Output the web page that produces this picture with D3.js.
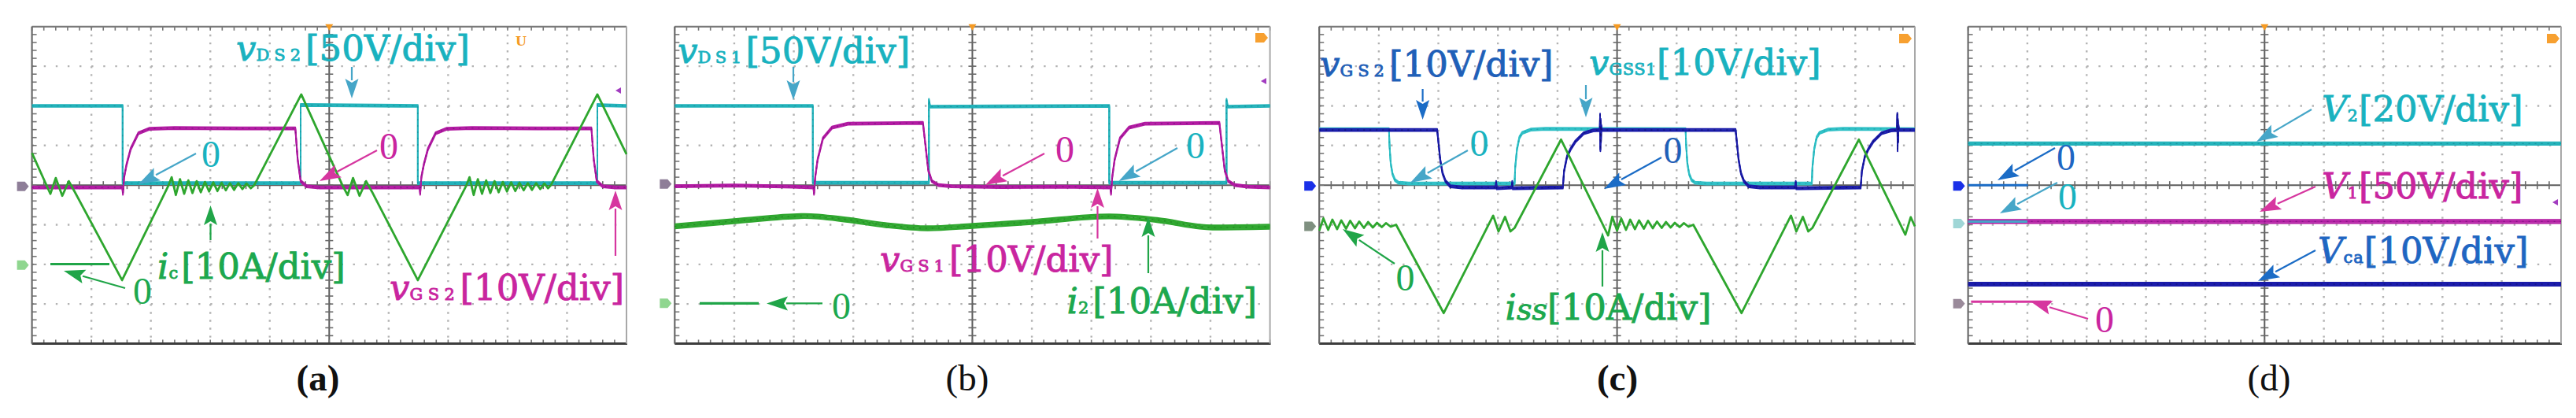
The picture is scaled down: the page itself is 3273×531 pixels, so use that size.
<!DOCTYPE html>
<html><head><meta charset="utf-8">
<script src="https://cdn.jsdelivr.net/npm/d3@7"></script>
<style>body{margin:0;background:#fff}svg{display:block}</style>
</head><body>
<svg id="fig" width="3273" height="531"></svg>
<script>
// ---------------- DATA (x in divisions 0..10, y in divisions from screen centre, up = +) ----------------
const a_vDS2 = [[0,2.0],[1.525,2.0],[1.525,0.05],[4.52,0.05],[4.52,2.02],[6.49,2.0],[6.49,0.05],[9.51,0.05],[9.51,2.02],[10,2.0]];
const a_vGS2 = [[0,-0.06],[1.52,-0.06],[1.53,-0.22],[1.55,0.2],[1.59,0.51],[1.66,0.91],[1.79,1.31],[1.97,1.42],[2.4,1.44],[3.5,1.43],[4.43,1.43],[4.47,0.64],[4.52,0.10],[4.62,-0.03],[4.84,-0.06],
  [6.52,-0.06],[6.53,-0.22],[6.55,0.2],[6.59,0.51],[6.66,0.91],[6.79,1.31],[6.97,1.42],[7.4,1.44],[8.5,1.43],[9.41,1.43],[9.45,0.64],[9.50,0.10],[9.60,-0.03],[9.82,-0.06],[10,-0.06]];
const a_ic = [[0,0.81],[0.31,-0.22],[0.40,0.18],[0.51,-0.27],[0.62,0.10],[0.72,-0.17],[1.516,-2.40],
  [2.29,-0.03],[2.35,0.20],[2.42,-0.25],[2.49,0.15],[2.56,-0.22],[2.63,0.12],[2.70,-0.20],[2.77,0.10],[2.84,-0.18],[2.91,0.08],[2.98,-0.16],[3.05,0.07],[3.12,-0.15],[3.19,0.06],[3.26,-0.13],[3.33,0.05],[3.40,-0.12],[3.47,0.05],[3.54,-0.10],[3.61,0.04],[3.68,-0.08],[3.74,0.0],
  [4.53,2.29],[5.23,-0.03],[5.31,-0.25],[5.40,0.18],[5.51,-0.27],[5.62,0.10],[5.72,-0.17],[6.49,-2.40],
  [7.30,-0.03],[7.36,0.20],[7.43,-0.25],[7.50,0.15],[7.57,-0.22],[7.64,0.12],[7.71,-0.20],[7.78,0.10],[7.85,-0.18],[7.92,0.08],[7.99,-0.16],[8.06,0.07],[8.13,-0.15],[8.20,0.06],[8.27,-0.13],[8.34,0.05],[8.41,-0.12],[8.48,0.05],[8.55,-0.10],[8.62,0.04],[8.68,-0.08],[8.73,0.0],
  [9.51,2.29],[10,0.78]];

const b_vDS1 = [[0,2.0],[2.32,2.0],[2.32,0.06],[4.27,0.06],[4.27,2.15],[4.29,1.98],[7.30,2.0],[7.30,0.06],[9.27,0.06],[9.27,2.15],[9.29,1.98],[10,2.0]];
const b_vGS1 = [[0,-0.03],[1.0,-0.01],[2.0,-0.04],[2.33,-0.06],[2.34,-0.22],[2.36,0.2],[2.40,0.64],[2.49,1.18],[2.64,1.45],[2.91,1.55],[3.6,1.56],[4.17,1.57],[4.22,0.9],[4.26,0.37],[4.32,0.1],[4.43,0.0],[4.65,-0.03],[5.5,-0.05],[6.5,-0.04],
  [7.32,-0.06],[7.33,-0.22],[7.35,0.2],[7.39,0.64],[7.48,1.18],[7.63,1.45],[7.9,1.55],[8.6,1.56],[9.15,1.57],[9.20,0.9],[9.24,0.37],[9.30,0.1],[9.41,0.0],[9.63,-0.04],[10,-0.06]];
const b_i2 = [[0,-1.04],[1.07,-0.90],[2.18,-0.78],[2.87,-0.87],[3.54,-1.01],[4.25,-1.09],[5.0,-1.03],[6.0,-0.93],[7.3,-0.79],[8.1,-0.88],[9.03,-1.07],[10,-1.05]];

const c_vGSS1 = [[0,1.41],[1.17,1.41],[1.18,1.0],[1.20,0.55],[1.23,0.28],[1.27,0.13],[1.33,0.06],[1.5,0.04],[3.28,0.04],[3.29,0.45],[3.32,0.91],[3.36,1.2],[3.41,1.32],[3.55,1.40],[3.8,1.42],
  [6.15,1.41],[6.16,1.0],[6.18,0.55],[6.21,0.28],[6.25,0.13],[6.31,0.06],[6.5,0.04],[8.27,0.04],[8.28,0.45],[8.31,0.91],[8.35,1.2],[8.40,1.32],[8.54,1.40],[8.8,1.42],[10,1.41]];
const c_vGS2 = [[0,1.39],[1.98,1.39],[2.0,1.1],[2.03,0.65],[2.07,0.3],[2.12,0.1],[2.2,-0.03],[2.4,-0.06],[2.96,-0.06],[2.97,0.08],[2.98,-0.08],[3.23,-0.06],[3.24,0.08],[3.25,-0.08],[4.09,-0.06],
  [4.11,0.35],[4.16,0.72],[4.22,0.91],[4.3,1.1],[4.44,1.31],[4.6,1.38],[4.71,1.39],[4.715,1.78],[4.72,0.88],[4.725,1.65],[4.73,1.1],[4.735,1.5],[4.745,1.39],
  [6.99,1.39],[7.01,1.1],[7.04,0.65],[7.08,0.3],[7.13,0.1],[7.21,-0.03],[7.4,-0.06],[7.99,-0.06],[8.0,0.08],[8.01,-0.08],[9.09,-0.06],
  [9.11,0.35],[9.16,0.72],[9.22,0.91],[9.3,1.1],[9.44,1.31],[9.6,1.38],[9.70,1.39],[9.705,1.80],[9.71,0.88],[9.715,1.65],[9.72,1.1],[9.725,1.5],[9.735,1.39],[10,1.39]];
const c_iss = [[0,-1.15],[0.07,-0.84],[0.15,-1.13],[0.22,-0.87],[0.30,-1.11],[0.37,-0.89],[0.45,-1.10],[0.52,-0.90],[0.60,-1.09],[0.67,-0.92],[0.75,-1.08],[0.82,-0.93],[0.90,-1.07],[0.97,-0.95],[1.05,-1.06],[1.12,-0.96],[1.20,-1.05],[1.29,-1.0],
  [2.09,-3.23],[2.92,-0.77],[3.01,-1.17],[3.12,-0.80],[3.21,-1.17],[3.28,-1.08],[4.06,1.15],
  [4.85,-1.27],[4.92,-0.80],[5.00,-1.15],[5.07,-0.84],[5.15,-1.13],[5.22,-0.87],[5.30,-1.11],[5.37,-0.89],[5.45,-1.10],[5.52,-0.90],[5.60,-1.09],[5.67,-0.92],[5.75,-1.08],[5.82,-0.93],[5.90,-1.07],[5.97,-0.95],[6.05,-1.06],[6.12,-0.96],[6.20,-1.05],[6.28,-1.0],
  [7.09,-3.23],[7.92,-0.77],[8.01,-1.17],[8.12,-0.80],[8.21,-1.17],[8.28,-1.08],[9.06,1.15],[9.84,-1.25],[9.93,-0.81],[10,-1.04]];

const d_V2  = [[0,1.05],[10,1.05]];
const d_V1  = [[0,-0.92],[10,-0.92]];
const d_Vca = [[0,-2.50],[10,-2.50]];
const d_zeroRefs = [[0,1.01,0],[0,1.0,-0.92],[0.05,1.40,-2.94]]; // [x from, x to, level]

const captions = ['(a)','(b)','(c)','(d)'];

// ---------------- STYLE / LAYOUT ----------------
const C = {
  cyanTr:'#22b2ba', cyanTr2:'#2fc0c6', magTr:'#b21aa2', greenTr:'#2ea62e', blueTr:'#1b1caa',
  cyanTx:'#19b2bf', magTx:'#c9259f', greenTx:'#1ca84e', blueTx:'#1f60b8', blueTx2:'#1f66c2',
  cyanAr:'#46a6c8', magAr:'#d6369f', greenAr:'#20a548', blueAr:'#1b6cc6'
};
const SERIF = "'DejaVu Serif', serif";
const TIMES = "'Liberation Serif','Times New Roman',serif";
const Y0 = 33.8, Y1 = 436.5;
const panels = [
  {x0:40.6,  x1:796,    capX:404,  bold:true},
  {x0:857.3, x1:1613.6, capX:1229, bold:false},
  {x0:1676.2,x1:2433,   capX:2055, bold:true},
  {x0:2500.6,x1:3254,   capX:2883, bold:false}
];
const svg = d3.select('#fig');
svg.append('rect').attr('width',3273).attr('height',531).attr('fill','#fff');
const y = d3.scaleLinear().domain([-4,4]).range([Y1,Y0]);

function drawFrame(p){
  const x = d3.scaleLinear().domain([0,10]).range([p.x0,p.x1]);
  const g = svg.append('g');
  const stepX = (p.x1-p.x0)/50, stepY = (Y1-Y0)/40;
  d3.range(1,10).filter(i=>i!==5).forEach(i=>{
    g.append('line').attr('x1',x(i)).attr('x2',x(i)).attr('y1',Y0).attr('y2',Y1)
      .attr('stroke','#b3b3b3').attr('stroke-width',2.4).attr('stroke-dasharray',`2.4 ${stepY-2.4}`);
  });
  d3.range(-3,4).filter(j=>j!==0).forEach(j=>{
    g.append('line').attr('x1',p.x0).attr('x2',p.x1).attr('y1',y(j)).attr('y2',y(j))
      .attr('stroke','#b3b3b3').attr('stroke-width',2.4).attr('stroke-dasharray',`2.4 ${stepX-2.4}`);
  });
  g.append('line').attr('x1',x(5)).attr('x2',x(5)).attr('y1',Y0).attr('y2',Y1).attr('stroke','#5c5c5c').attr('stroke-width',2);
  g.append('line').attr('x1',p.x0).attr('x2',p.x1).attr('y1',y(0)).attr('y2',y(0)).attr('stroke','#5c5c5c').attr('stroke-width',2);
  d3.range(0,41).forEach(k=>{
    const yy = Y0+k*stepY;
    g.append('line').attr('x1',x(5)-5).attr('x2',x(5)+5).attr('y1',yy).attr('y2',yy).attr('stroke','#6a6a6a').attr('stroke-width',1.6);
    g.append('line').attr('x1',p.x0).attr('x2',p.x0+6).attr('y1',yy).attr('y2',yy).attr('stroke','#777').attr('stroke-width',1.6);
  });
  d3.range(0,51).forEach(k=>{
    const xx = p.x0+k*stepX;
    g.append('line').attr('x1',xx).attr('x2',xx).attr('y1',y(0)-5).attr('y2',y(0)+5).attr('stroke','#6a6a6a').attr('stroke-width',1.6);
    g.append('line').attr('x1',xx).attr('x2',xx).attr('y1',Y0).attr('y2',Y0+5).attr('stroke','#777').attr('stroke-width',1.6);
    g.append('line').attr('x1',xx).attr('x2',xx).attr('y1',Y1-5).attr('y2',Y1).attr('stroke','#777').attr('stroke-width',1.6);
  });
  g.append('line').attr('x1',p.x0).attr('x2',p.x1).attr('y1',Y0).attr('y2',Y0).attr('stroke','#7a7a7a').attr('stroke-width',2.2);
  g.append('line').attr('x1',p.x0).attr('x2',p.x1+1).attr('y1',Y1).attr('y2',Y1).attr('stroke','#3c3c3c').attr('stroke-width',3);
  g.append('line').attr('x1',p.x0).attr('x2',p.x0).attr('y1',Y0).attr('y2',Y1).attr('stroke','#6a6a6a').attr('stroke-width',2.2);
  g.append('line').attr('x1',p.x1).attr('x2',p.x1).attr('y1',Y0).attr('y2',Y1).attr('stroke','#a8a8a8').attr('stroke-width',2);
  g.append('path').attr('d',`M${x(5)-5},${Y0-3}L${x(5)+5},${Y0-3}L${x(5)},${Y0+5}Z`).attr('fill','#f59a23');
  return x;
}

function trace(x, data, color, opts={}){
  const line = d3.line().x(d=>x(d[0])).y(d=>y(d[1])).curve(opts.curve||d3.curveLinear);
  const offs = opts.offs || [-1.4,0,1.4];
  offs.forEach(o=>svg.append('path').attr('d',line(data)).attr('transform',`translate(0,${o})`)
    .attr('fill','none').attr('stroke',color).attr('stroke-width',opts.w||1.9).attr('stroke-linejoin','round'));
  if(opts.dark) svg.append('path').attr('d',line(data)).attr('fill','none').attr('stroke',opts.dark)
    .attr('stroke-width',1.2).attr('stroke-dasharray','2 6').attr('opacity',0.7);
}

function rich(x0, yb, parts, color){
  const t = svg.append('text').attr('x',x0).attr('y',yb).attr('fill',color).attr('font-family',SERIF).attr('font-size',45)
    .attr('stroke',color).attr('stroke-width',0.9);
  parts.forEach(([s,k,extra])=>{
    const ts = t.append('tspan').text(s);
    if(k==='it') ts.attr('font-style','italic').attr('font-size',extra||45);
    if(k==='sub') ts.attr('font-size',21).attr('letter-spacing',extra||1);
  });
}
function zero(xc, yb, color){
  svg.append('text').attr('x',xc).attr('y',yb).attr('text-anchor','middle').attr('fill',color)
    .attr('font-family',TIMES).attr('font-size',48).text('0');
}
function arrow(x1,y1,x2,y2,color,hl=25,hw=8.5){
  const dx=x2-x1, dy=y2-y1, L=Math.hypot(dx,dy), ux=dx/L, uy=dy/L;
  const bx=x2-ux*hl, by=y2-uy*hl;
  svg.append('line').attr('x1',x1).attr('y1',y1).attr('x2',bx+ux*2).attr('y2',by+uy*2).attr('stroke',color).attr('stroke-width',2.2);
  svg.append('path').attr('d',`M${x2},${y2}L${bx-uy*hw},${by+ux*hw}L${bx+ux*5},${by+uy*5}L${bx+uy*hw},${by-ux*hw}Z`).attr('fill',color);
}
function seg(x1,y1,x2,y2,color,w=3){
  svg.append('line').attr('x1',x1).attr('y1',y1).attr('x2',x2).attr('y2',y2).attr('stroke',color).attr('stroke-width',w);
}
function chMarker(p, lvl, color){
  const yy=y(lvl), xr=p.x0-4;
  svg.append('path').attr('d',`M${xr-15},${yy-6}L${xr-5},${yy-6}L${xr},${yy}L${xr-5},${yy+6}L${xr-15},${yy+6}Z`).attr('fill',color);
}
function orangeTag(xx,yy){
  svg.append('path').attr('d',`M${xx-8},${yy-6}L${xx+3},${yy-6}L${xx+8},${yy}L${xx+3},${yy+6}L${xx-8},${yy+6}Z`).attr('fill','#f7a030');
}
function purpleTag(xx,yy){
  svg.append('path').attr('d',`M${xx-5},${yy}L${xx+2},${yy-4}L${xx+2},${yy+4}Z`).attr('fill','#a23cc0');
}

const xs = panels.map(drawFrame);

// ---------- panel (a) ----------
{ const x = xs[0], p = panels[0];
  trace(x, a_vDS2, C.cyanTr, {dark:'#138a94'});
  trace(x, a_vGS2, C.magTr, {dark:'#6e1478'});
  trace(x, a_ic, C.greenTr, {offs:[0], w:2.8});
  chMarker(p,-0.03,'#8e7e98'); chMarker(p,-2.02,'#8fd68f');
  rich(300,77,[['v','it'],['DS2','sub',6],['[50V/div]','n']],C.cyanTx);
  arrow(447,85,447,125,C.cyanAr);
  zero(268,212,C.cyanTx); arrow(249,195,176,234,C.cyanAr,27,9);
  zero(494,202,C.magTx); arrow(479,191,406,230,C.magAr,27,9);
  rich(200,354,[['i','it'],['c','sub',4],['[10A/div]','n']],C.greenTx);
  arrow(267.5,305,267.5,261,C.greenAr);
  zero(181,386,C.greenTx); arrow(159,366,81,344,C.greenAr,27,9); seg(64,335.5,139,335.5,C.greenAr,3.2);
  rich(495,381,[['v','it'],['GS2','sub',6.5],['[10V/div]','n']],C.magTx);
  arrow(782,325,782,242,C.magAr);
  svg.append('text').attr('x',662).attr('y',58).attr('text-anchor','middle').attr('font-family',SERIF).attr('font-size',16).attr('font-weight','bold').attr('fill','#f59a23').text('U');
  purpleTag(787,115);
}
// ---------- panel (b) ----------
{ const x = xs[1], p = panels[1];
  trace(x, b_vDS1, C.cyanTr, {dark:'#138a94'});
  trace(x, b_vGS1, C.magTr, {dark:'#6e1478'});
  trace(x, b_i2, C.greenTr, {offs:[-2.6,-0.9,0.9,2.6], w:2.2, curve:d3.curveMonotoneX, dark:'#1f7a1f'});
  chMarker(p,0.03,'#8e7e98'); chMarker(p,-2.98,'#8fd68f');
  rich(861,80,[['v','it'],['DS1','sub',5.5],['[50V/div]','n']],C.cyanTx);
  arrow(1008,85,1008,127,C.cyanAr);
  zero(1353,206,C.magTx); arrow(1327,195,1252,235,C.magAr,27,9);
  zero(1519,201,C.cyanTx); arrow(1496,188,1421.5,230,C.cyanAr,27,9);
  rich(1118,345,[['v','it'],['GS1','sub',6],['[10V/div]','n']],C.magTx);
  arrow(1394.5,303,1394.5,239,C.magAr);
  rich(1355.5,398,[['i','it'],['2','sub',5],['[10A/div]','n']],C.greenTx);
  arrow(1459,347,1459,276,C.greenAr);
  zero(1069,405,C.greenTx); arrow(1045,385.4,974,385.4,C.greenAr,27,9); seg(889,385.4,964,385.4,C.greenAr,3.2);
  orangeTag(1603,48); purpleTag(1607,103);
}
// ---------- panel (c) ----------
{ const x = xs[2], p = panels[2];
  trace(x, c_vGSS1, C.cyanTr2, {dark:'#1a9aa2'});
  trace(x, c_vGS2, C.blueTr, {dark:'#0c0c60'});
  trace(x, c_iss, C.greenTr, {offs:[0], w:2.8});
  chMarker(p,-0.02,'#1a30e8'); chMarker(p,-1.04,'#7f9080');
  rich(1677,96.5,[['v','it'],['GS2','sub',6],['[10V/div]','n']],C.blueTx);
  arrow(1807.6,113,1807.6,152,C.blueAr);
  rich(2019,95,[['v','it'],['GSS1','sub',0.5],['[10V/div]','n']],C.cyanTx);
  arrow(2015,108,2015,149,C.cyanAr);
  zero(1879.6,198,C.cyanTx); arrow(1865,191,1792,232,C.cyanAr,27,9);
  zero(2125.6,206.6,C.blueTx); arrow(2111,200,2038,240,C.blueAr,27,9);
  zero(1785.6,369,C.greenTx); arrow(1772,335,1706,291,C.greenAr,27,9);
  rich(1912.6,406,[['i','it'],['ss','it',38],['[10A/div]','n']],C.greenTx);
  arrow(2036,364,2036,295,C.greenAr);
  orangeTag(2421,49);
}
// ---------- panel (d) ----------
{ const x = xs[3], p = panels[3];
  trace(x, d_V2, C.cyanTr, {offs:[-1.6,0,1.6], w:2, dark:'#138a94'});
  trace(x, d_V1, C.magTr, {offs:[-2,0,2], w:2.2, dark:'#6e1478'});
  trace(x, d_Vca, C.blueTr, {offs:[-2,0,2], w:2.2, dark:'#0c0c60'});
  const zc = [C.blueAr, C.cyanAr, C.magAr];
  d_zeroRefs.forEach((r,i)=>seg(x(r[0]),y(r[2]),x(r[1]),y(r[2]),zc[i],3));
  chMarker(p,-0.02,'#1a30e8'); chMarker(p,-0.97,'#9fd6d6'); chMarker(p,-2.99,'#9a8a9a');
  rich(2950,154,[['V','it'],['2','sub',1],['[20V/div]','n']],C.cyanTx);
  arrow(2937,139,2867,180,C.cyanAr,27,9);
  rich(2950,252,[['V','it'],['1','sub',1],['[50V/div]','n']],C.magTx);
  arrow(2942,237,2871,269,C.magAr,27,9);
  rich(2945,333.6,[['V','it'],['ca','sub',1],['[10V/div]','n']],C.blueTx2);
  arrow(2942,318,2869,357,C.blueAr,27,9);
  zero(2625,216,C.blueTx2); arrow(2611,188,2538,229,C.blueAr,27,9);
  zero(2627,266,C.cyanTx); arrow(2614,232,2541,271,C.cyanAr,27,9);
  zero(2674,421.6,C.magTx); arrow(2653,405,2580,383,C.magAr,27,9);
  orangeTag(3244,49); purpleTag(3248,257);
}
// captions
panels.forEach((p,i)=>{
  svg.append('text').attr('x',p.capX).attr('y',496).attr('text-anchor','middle').attr('font-family',TIMES)
    .attr('font-size',47).attr('font-weight',p.bold?'bold':'normal').attr('fill','#111').text(captions[i]);
});
</script>
</body></html>
